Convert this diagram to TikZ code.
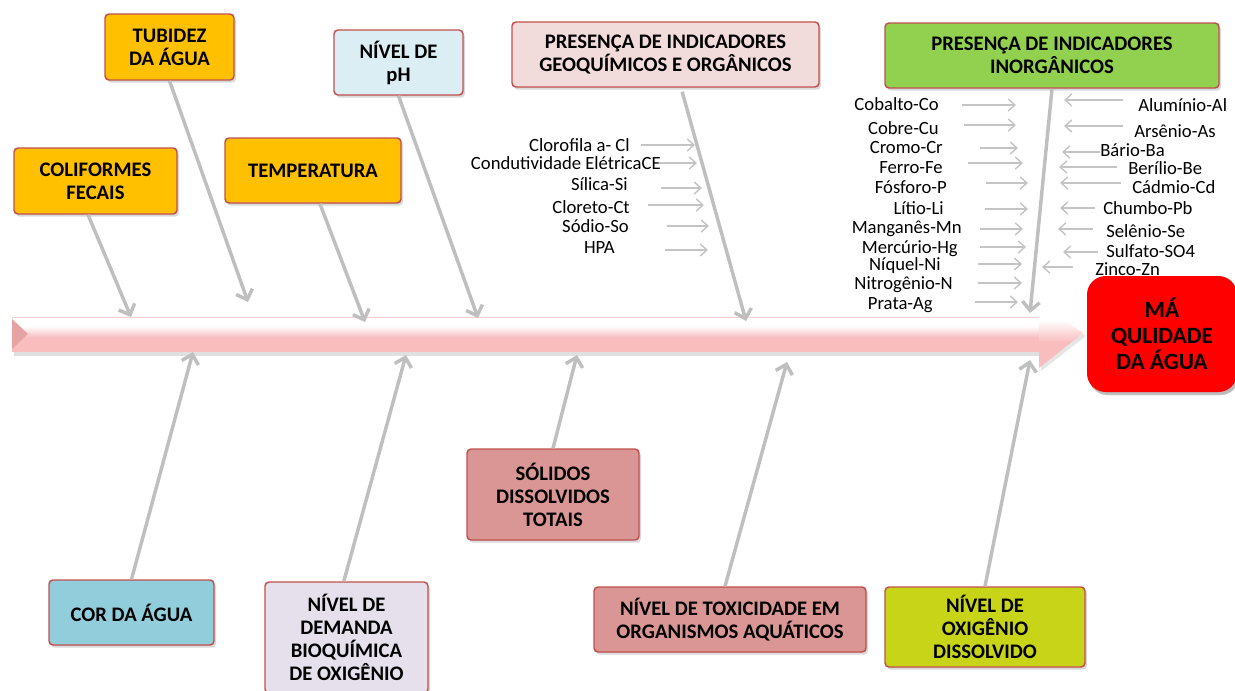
\documentclass[tikz,border=0pt]{standalone}
\usepackage{fontspec}
\setmainfont{Carlito}
\usetikzlibrary{arrows.meta,shadows,calc}
\definecolor{bordr}{HTML}{C0504D}
\definecolor{orange1}{HTML}{FFC000}
\definecolor{phblue}{HTML}{DAEEF3}
\definecolor{geopink}{HTML}{F2DCDB}
\definecolor{inorggreen}{HTML}{92D050}
\definecolor{mared}{HTML}{FF0000}
\definecolor{corblue}{HTML}{92CDDC}
\definecolor{demlav}{HTML}{E5E0EC}
\definecolor{solred}{HTML}{D99694}
\definecolor{oxigreen}{HTML}{C8D418}
\definecolor{bonegray}{HTML}{BFBFBF}
\definecolor{smallgray}{HTML}{C4C4C4}
\definecolor{spinepink}{HTML}{F9BDBE}
\definecolor{spinedark}{HTML}{F3AEAF}
\definecolor{notchpink}{HTML}{E7A2A3}
\pgfdeclareverticalshading{spineshade}{100bp}{color(0bp)=(spinedark); color(10bp)=(spinepink); color(45bp)=(spinepink); color(62bp)=(white); color(88bp)=(white); color(100bp)=(spinepink!80)}
\tikzset{
  box/.style={draw=bordr, line width=1.1pt, rounded corners=3pt, align=center, inner sep=2pt,
    font=\bfseries\fontsize{15.5}{17.3}\selectfont,
    drop shadow={shadow xshift=1.5pt, shadow yshift=-2pt, opacity=0.3}},
  bone/.style={draw=bonegray, line width=2.6pt, -{Straight Barb[length=6.5pt,width=13pt]}},
  sarr/.style={draw=smallgray, line width=1.1pt, -{Straight Barb[length=5pt,width=9pt]}},
  lbl/.style={inner sep=0pt, font=\fontsize{14}{16}\selectfont},
}
\begin{document}
\begin{tikzpicture}[x=0.75pt,y=-0.75pt]
\useasboundingbox (0,0) rectangle (1235,690);
% spine
\fill[black,opacity=0.12] (14,351) rectangle (1040,356);
\shade[shading=spineshade] (12,317) rectangle (1040,351);
\draw[spinepink!70, line width=0.6pt] (12,317.5) -- (1040,317.5);
\fill[notchpink] (12,319) -- (28,334) -- (12,349) -- cycle;
\fill[black,opacity=0.1] (1041,306) -- (1086,336) -- (1041,371) -- cycle;
\shade[shading=spineshade] (1039,303) -- (1083,333) -- (1039,368) -- cycle;

% top boxes
\node[box, fill=orange1, minimum width=96.75pt, minimum height=49.5pt] (tub) at (169.5,47) {TUBIDEZ\\DA ÁGUA};
\node[box, fill=phblue, minimum width=96.75pt, minimum height=48.75pt] (ph) at (398.5,62.5) {NÍVEL DE\\pH};
\node[box, fill=orange1, minimum width=122.25pt, minimum height=49.5pt] (colif) at (95.5,181) {COLIFORMES\\FECAIS};
\node[box, fill=orange1, minimum width=132pt, minimum height=48.75pt] (temp) at (313,170.5) {TEMPERATURA};
\node[box, fill=geopink, minimum width=230.25pt, minimum height=48.75pt] (geo) at (665.5,54.5) {PRESENÇA DE INDICADORES\\GEOQUÍMICOS E ORGÂNICOS};
\node[box, fill=inorggreen, minimum width=250.5pt, minimum height=48.75pt] (inorg) at (1052,55.5) {PRESENÇA DE INDICADORES\\INORGÂNICOS};
\node[box, draw=none, fill=mared, rounded corners=14pt, minimum width=112.5pt, minimum height=87pt,
  font=\bfseries\fontsize{17.5}{19.5}\selectfont, drop shadow={shadow xshift=1.5pt, shadow yshift=-2.5pt, opacity=0.35}] (ma) at (1162,334) {MÁ\\QULIDADE\\DA ÁGUA};

% bottom boxes
\node[box, fill=corblue, minimum width=123.75pt, minimum height=48.75pt] (cor) at (131.5,612.5) {COR DA ÁGUA};
\node[box, fill=demlav, minimum width=122.25pt, minimum height=83.25pt] (dem) at (346.5,637.5) {NÍVEL DE\\DEMANDA\\BIOQUÍMICA\\DE OXIGÊNIO};
\node[box, fill=solred, minimum width=129pt, minimum height=68.25pt] (sol) at (553,494.5) {SÓLIDOS\\DISSOLVIDOS\\TOTAIS};
\node[box, fill=solred, minimum width=204pt, minimum height=48.75pt] (tox) at (730,619.5) {NÍVEL DE TOXICIDADE EM\\ORGANISMOS AQUÁTICOS};
\node[box, fill=oxigreen, minimum width=150pt, minimum height=60pt] (oxi) at (985,627) {NÍVEL DE\\OXIGÊNIO\\DISSOLVIDO};

% spine end points
\coordinate (e1) at (131,317);
\coordinate (e2) at (248,302);
\coordinate (e3) at (365,322);
\coordinate (e4) at (478,318);
\coordinate (e5) at (746,321);
\coordinate (e6) at (1030,313);
\coordinate (f1) at (193,352);
\coordinate (f2) at (406,355);
\coordinate (f3) at (577,355);
\coordinate (f4) at (787,362);
\coordinate (f5) at (1030,360);

\draw[bone] ([xshift=-5.6pt]colif.south) -- (e1);
\draw[bone] (tub.south) -- (e2);
\draw[bone] ([xshift=5.2pt]temp.south) -- (e3);
\draw[bone] (ph.south) -- (e4);
\draw[bone] ([xshift=12.5pt,yshift=-3pt]geo.south) -- (e5);
\draw[bone] (inorg.south) -- (e6);
\draw[bone] (cor.north) -- (f1);
\draw[bone] ([xshift=-2pt]dem.north) -- (f2);
\draw[bone] (sol.north) -- (f3);
\draw[bone] ([xshift=-3.75pt]tox.north) -- (f4);
\draw[bone] (oxi.north) -- (f5);

% geochemical labels
\node[lbl, anchor=east] (clo) at (630,145) {Clorofila a- Cl};
\node[lbl, anchor=east] (cond) at (661,163) {Condutividade ElétricaCE};
\node[lbl, anchor=east] (sil) at (628,184) {Sílica-Si};
\node[lbl, anchor=east] (clt) at (630,207) {Cloreto-Ct};
\node[lbl, anchor=east] (sod) at (629,226) {Sódio-So};
\node[lbl, anchor=east] (hpa) at (615,248) {HPA};
\draw[sarr] ([shift={(11,0)}]clo.east) -- ++(54,0);
\draw[sarr] ([shift={(-2,0)}]cond.east) -- ++(38,0);
\draw[sarr] ([shift={(33,4)}]sil.east) -- ++(41,0);
\draw[sarr] ([shift={(18,-2)}]clt.east) -- ++(56,0);
\draw[sarr] ([shift={(38,0)}]sod.east) -- ++(42,0);
\draw[sarr] ([shift={(50,2)}]hpa.east) -- ++(43,0);

% inorganic labels, left
\node[lbl, anchor=east] (cob) at (939,104) {Cobalto-Co};
\node[lbl, anchor=east] (cobr) at (939,128) {Cobre-Cu};
\node[lbl, anchor=east] (cro) at (943,148) {Cromo-Cr};
\node[lbl, anchor=east] (fer) at (943,168) {Ferro-Fe};
\node[lbl, anchor=east] (fos) at (947,187) {Fósforo-P};
\node[lbl, anchor=east] (lit) at (944,208) {Lítio-Li};
\node[lbl, anchor=east] (man) at (962,229) {Manganês-Mn};
\node[lbl, anchor=east] (mer) at (958,249) {Mercúrio-Hg};
\node[lbl, anchor=east] (niq) at (941,266) {Níquel-Ni};
\node[lbl, anchor=east] (nit) at (953,285) {Nitrogênio-N};
\node[lbl, anchor=east] (pra) at (933,305) {Prata-Ag};
\draw[sarr] ([shift={(23,1)}]cob.east) -- ++(54,0);
\draw[sarr] ([shift={(25,-3)}]cobr.east) -- ++(52,0);
\draw[sarr] ([shift={(37,0)}]cro.east) -- ++(38,0);
\draw[sarr] ([shift={(25,-5)}]fer.east) -- ++(55,0);
\draw[sarr] ([shift={(39,-4)}]fos.east) -- ++(42,0);
\draw[sarr] ([shift={(41,1)}]lit.east) -- ++(43,0);
\draw[sarr] ([shift={(18,0)}]man.east) -- ++(43,0);
\draw[sarr] ([shift={(22,-2)}]mer.east) -- ++(46,0);
\draw[sarr] ([shift={(37,-2)}]niq.east) -- ++(44,0);
\draw[sarr] ([shift={(25,-2)}]nit.east) -- ++(44,0);
\draw[sarr] ([shift={(42,-3)}]pra.east) -- ++(43,0);

% inorganic labels, right
\node[lbl, anchor=west] (alu) at (1138,105) {Alumínio-Al};
\node[lbl, anchor=west] (ars) at (1134,131) {Arsênio-As};
\node[lbl, anchor=west] (bar) at (1100,150) {Bário-Ba};
\node[lbl, anchor=west] (ber) at (1128,168) {Berílio-Be};
\node[lbl, anchor=west] (cad) at (1132,187) {Cádmio-Cd};
\node[lbl, anchor=west] (chu) at (1103,208) {Chumbo-Pb};
\node[lbl, anchor=west] (sel) at (1106,231) {Selênio-Se};
\node[lbl, anchor=west] (sul) at (1106,251) {Sulfato-SO4};
\node[lbl, anchor=west] (zin) at (1095,269) {Zinco-Zn};
\draw[sarr] ([shift={(-15,-5)}]alu.west) -- ++(-59,0);
\draw[sarr] ([shift={(-11,-5)}]ars.west) -- ++(-59,0);
\draw[sarr] ([shift={(0,2)}]bar.west) -- ++(-38,0);
\draw[sarr] ([shift={(-11,-1)}]ber.west) -- ++(-58,0);
\draw[sarr] ([shift={(-11,-4)}]cad.west) -- ++(-61,0);
\draw[sarr] ([shift={(-8,0)}]chu.west) -- ++(-35,0);
\draw[sarr] ([shift={(-13,-2)}]sel.west) -- ++(-35,0);
\draw[sarr] ([shift={(-8,1)}]sul.west) -- ++(-35,0);
\draw[sarr] ([shift={(-22,-2)}]zin.west) -- ++(-31,0);
\end{tikzpicture}
\end{document}
